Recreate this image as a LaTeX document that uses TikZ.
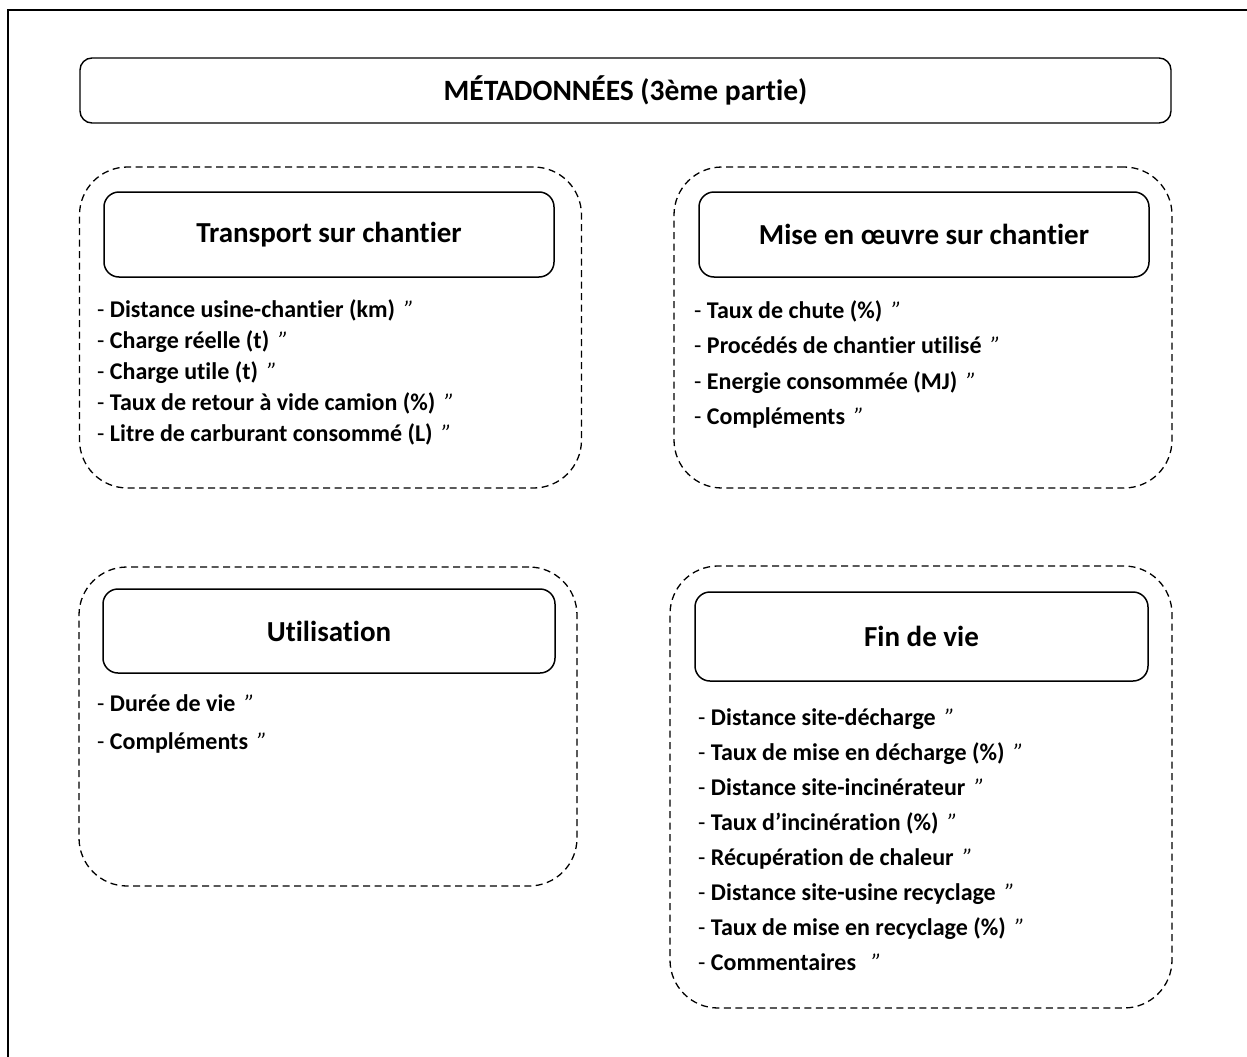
\documentclass[tikz,border=0pt]{standalone}
\usepackage{fontspec}
\setmainfont{Carlito}[Ligatures=NoCommon]
\newcommand{\dq}{{\mdseries\itshape "}}
\newcommand{\itm}[1]{{\mdseries -} \textbf{#1}\hspace{0.38em}\dq}
\tikzset{
  frameline/.style={line width=2.6pt},
  titlebox/.style={draw, line width=1.4pt, rounded corners=12pt, minimum width=1091pt, minimum height=65pt, inner sep=0pt, font=\fontsize{29.5}{34}\selectfont\bfseries},
  group/.style={draw, dash pattern=on 7pt off 4.5pt, line width=1.3pt, rounded corners=48pt, inner sep=0pt},
  headbox/.style={draw, line width=1.5pt, rounded corners=15pt, inner sep=0pt, font=\fontsize{29}{34}\selectfont\bfseries},
  item/.style={anchor=base west, inner sep=0pt, font=\fontsize{24}{28}\selectfont}
}
\begin{document}
\begin{tikzpicture}[x=1pt,y=-1pt]
\useasboundingbox (0,0) rectangle (1247,1057);
% outer frame (only left and top visible)
\coordinate (fbl) at (8,1060);
\coordinate (ftl) at (8,10);
\coordinate (ftr) at (1250,10);
\draw[frameline] (fbl) -- (ftl) -- (ftr);

% title
\node[titlebox] (title) at (625.5,90.5) {MÉTADONNÉES (3ème partie)};

% group containers
\node[group, minimum width=502pt, minimum height=321pt] (g1) at (330.5,327.5) {};
\node[group, minimum width=498pt, minimum height=321pt] (g2) at (923,327.5) {};
\node[group, minimum width=498pt, minimum height=319pt] (g3) at (328,726.5) {};
\node[group, minimum width=502pt, minimum height=442pt] (g4) at (921,787) {};

% heading boxes
\node[headbox, minimum width=450pt, minimum height=85pt] (h1) at (329,234.5) {Transport sur chantier};
\node[headbox, minimum width=450pt, minimum height=85pt] (h2) at (924,234.5) {Mise en œuvre sur chantier};
\node[headbox, minimum width=452pt, minimum height=84pt] (h3) at (329,631) {Utilisation};
\node[headbox, minimum width=453pt, minimum height=89pt] (h4) at (921.5,636.5) {Fin de vie};

% items group 1
\node[item] (a1) at (97,317) {\itm{Distance usine-chantier (km)}};
\node[item] (a2) at (97,348) {\itm{Charge réelle (t)}};
\node[item] (a3) at (97,379) {\itm{Charge utile (t)}};
\node[item] (a4) at (97,410) {\itm{Taux de retour à vide camion (\%)}};
\node[item] (a5) at (97,441) {\itm{Litre de carburant consommé (L)}};

% items group 2
\node[item] (b1) at (694,318) {\itm{Taux de chute (\%)}};
\node[item] (b2) at (694,353) {\itm{Procédés de chantier utilisé}};
\node[item] (b3) at (694,389) {\itm{Energie consommée (MJ)}};
\node[item] (b4) at (694,424) {\itm{Compléments}};

% items group 3
\node[item] (c1) at (97,711) {\itm{Durée de vie}};
\node[item] (c2) at (97,749) {\itm{Compléments}};

% items group 4
\node[item] (d1) at (698,725) {\itm{Distance site-décharge}};
\node[item] (d2) at (698,760) {\itm{Taux de mise en décharge (\%)}};
\node[item] (d3) at (698,795) {\itm{Distance site-incinérateur}};
\node[item] (d4) at (698,830) {\itm{Taux d’incinération (\%)}};
\node[item] (d5) at (698,865) {\itm{Récupération de chaleur}};
\node[item] (d6) at (698,900) {\itm{Distance site-usine recyclage}};
\node[item] (d7) at (698,935) {\itm{Taux de mise en recyclage (\%)}};
\node[item] (d8) at (698,970) {{\mdseries -} \textbf{Commentaires}\hspace{0.65em}\dq};
\end{tikzpicture}
\end{document}
